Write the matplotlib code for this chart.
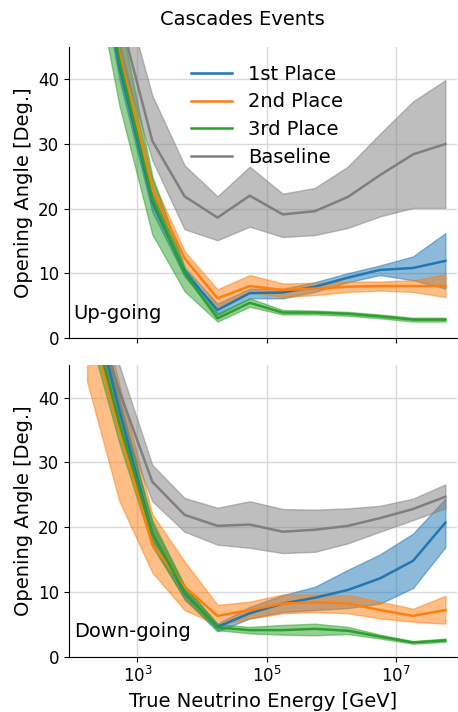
import numpy as np
import matplotlib
matplotlib.use("Agg")
import matplotlib.pyplot as plt

# bin centres in true energy [GeV]
energy = [166, 525, 1700, 5370, 17400, 55000, 178000, 562000, 1.82e6, 5.75e6, 1.86e7, 5.9e7]

labels = ["1st Place", "2nd Place", "3rd Place", "Baseline"]
colors = ["tab:blue", "tab:orange", "tab:green", "tab:gray"]

# ---- up-going: median and band ----
up_1st = [70, 42, 21, 10.2, 4.3, 6.9, 7.0, 7.9, 9.3, 10.5, 10.8, 11.9]
up_1st_lo = [67, 40, 19.5, 9.5, 3.5, 6.1, 6.1, 7.1, 8.6, 9.7, 8.9, 7.6]
up_1st_hi = [73, 44, 22.5, 10.8, 5.3, 7.6, 7.6, 8.6, 10.0, 11.2, 12.6, 16.2]

up_2nd = [72, 44, 23, 12.3, 6.1, 8.0, 7.4, 7.6, 7.9, 8.0, 8.0, 8.0]
up_2nd_lo = [69, 42, 21.5, 11.2, 4.8, 7.1, 6.3, 6.6, 7.1, 7.3, 7.1, 6.3]
up_2nd_hi = [75, 46, 24.5, 13.4, 7.5, 9.7, 8.4, 8.5, 8.7, 8.7, 8.9, 9.8]

up_3rd = [70, 43, 21.5, 10.0, 3.0, 5.4, 3.9, 3.9, 3.7, 3.3, 2.8, 2.8]
up_3rd_lo = [62, 36, 16, 7.2, 2.5, 4.8, 3.6, 3.6, 3.4, 3.0, 2.5, 2.5]
up_3rd_hi = [78, 50, 25, 10.9, 3.8, 6.1, 4.3, 4.2, 4.0, 3.6, 3.1, 3.1]

up_base = [75, 50, 30.5, 21.9, 18.6, 22.0, 19.1, 19.6, 21.8, 25.2, 28.4, 30.0]
up_base_lo = [68, 44, 27.5, 16.8, 15.1, 17.2, 15.6, 15.9, 17.0, 18.8, 20.1, 20.1]
up_base_hi = [82, 56, 37.5, 26.7, 21.9, 26.5, 22.3, 23.2, 26.5, 31.6, 36.6, 39.9]

# ---- down-going ----
dn_1st = [58, 38, 19, 9.8, 4.6, 6.7, 8.2, 9.1, 10.3, 12.1, 14.8, 20.7]
dn_1st_lo = [55, 36, 17.5, 8.8, 3.9, 5.9, 6.9, 7.2, 7.5, 8.2, 10.6, 16.9]
dn_1st_hi = [61, 40, 20.5, 10.8, 5.1, 7.7, 9.5, 10.8, 13.4, 15.8, 19.0, 24.4]

dn_2nd = [53, 35, 17.3, 10.8, 6.3, 7.2, 8.2, 8.4, 8.2, 7.2, 6.3, 7.2]
dn_2nd_lo = [42.5, 24, 13, 7.2, 4.9, 5.9, 6.7, 6.9, 6.7, 5.9, 5.4, 5.1]
dn_2nd_hi = [62, 42, 22, 14.7, 8.0, 8.5, 9.6, 9.6, 9.5, 8.5, 7.4, 9.4]

dn_3rd = [55, 36, 19, 10.0, 4.5, 4.1, 4.1, 4.3, 4.0, 3.1, 2.2, 2.5]
dn_3rd_lo = [51, 33, 17, 9.0, 4.1, 3.6, 3.4, 3.3, 3.5, 2.8, 2.0, 2.3]
dn_3rd_hi = [59, 39, 21, 11.0, 5.0, 4.6, 4.9, 5.1, 4.6, 3.4, 2.4, 2.8]

dn_base = [57, 41, 27, 21.9, 20.2, 20.4, 19.3, 19.6, 20.2, 21.4, 22.8, 24.7]
dn_base_lo = [52, 37, 24, 19.3, 17.3, 16.8, 16.0, 16.2, 17.5, 19.3, 21.1, 22.9]
dn_base_hi = [62, 45, 29.6, 24.5, 23.0, 24.0, 22.8, 22.7, 22.9, 23.3, 24.4, 26.6]

panels = [
    ("Up-going", [(up_1st, up_1st_lo, up_1st_hi), (up_2nd, up_2nd_lo, up_2nd_hi),
                  (up_3rd, up_3rd_lo, up_3rd_hi), (up_base, up_base_lo, up_base_hi)]),
    ("Down-going", [(dn_1st, dn_1st_lo, dn_1st_hi), (dn_2nd, dn_2nd_lo, dn_2nd_hi),
                    (dn_3rd, dn_3rd_lo, dn_3rd_hi), (dn_base, dn_base_lo, dn_base_hi)]),
]

fig = plt.figure(figsize=(4.58, 7.12), dpi=100)
ax_top = fig.add_axes([0.1507, 0.5257, 0.847, 0.408])
ax_bot = fig.add_axes([0.1507, 0.0777, 0.847, 0.4093], sharex=ax_top)

for ax, (name, series) in zip([ax_top, ax_bot], panels):
    for (med, lo, hi), lab, col in zip(series, labels, colors):
        ax.plot(energy, med, color=col, lw=1.8, label=lab)
        ax.fill_between(energy, lo, hi, color=col, alpha=0.5)
    ax.set_xscale("log")
    ax.set_ylim(0, 45)
    ax.set_yticks([0, 10, 20, 30, 40])
    ax.set_ylabel("Opening Angle [Deg.]", fontsize=14)
    ax.grid(True, color="#d9d9d9", lw=1)
    ax.set_axisbelow(True)
    ax.spines["top"].set_visible(False)
    ax.spines["right"].set_visible(False)
    ax.tick_params(labelsize=12)
    ax.text(0.012, 0.085, name, transform=ax.transAxes, fontsize=14, va="center")

ax_top.set_xlim(10**1.94, 10**7.95)
ax_top.set_xticks([1e3, 1e5, 1e7])
ax_top.xaxis.set_minor_locator(matplotlib.ticker.NullLocator())
ax_top.tick_params(labelbottom=False)
ax_bot.set_xlabel("True Neutrino Energy [GeV]", fontsize=14)

ax_top.legend(loc="upper left", bbox_to_anchor=(0.27, 1.0), frameon=False,
              fontsize=14, handlelength=2.1, labelspacing=0.45)

fig.text(0.53, 0.972, "Cascades Events", ha="center", va="center", fontsize=14)

fig.savefig("out.png", dpi=100)
